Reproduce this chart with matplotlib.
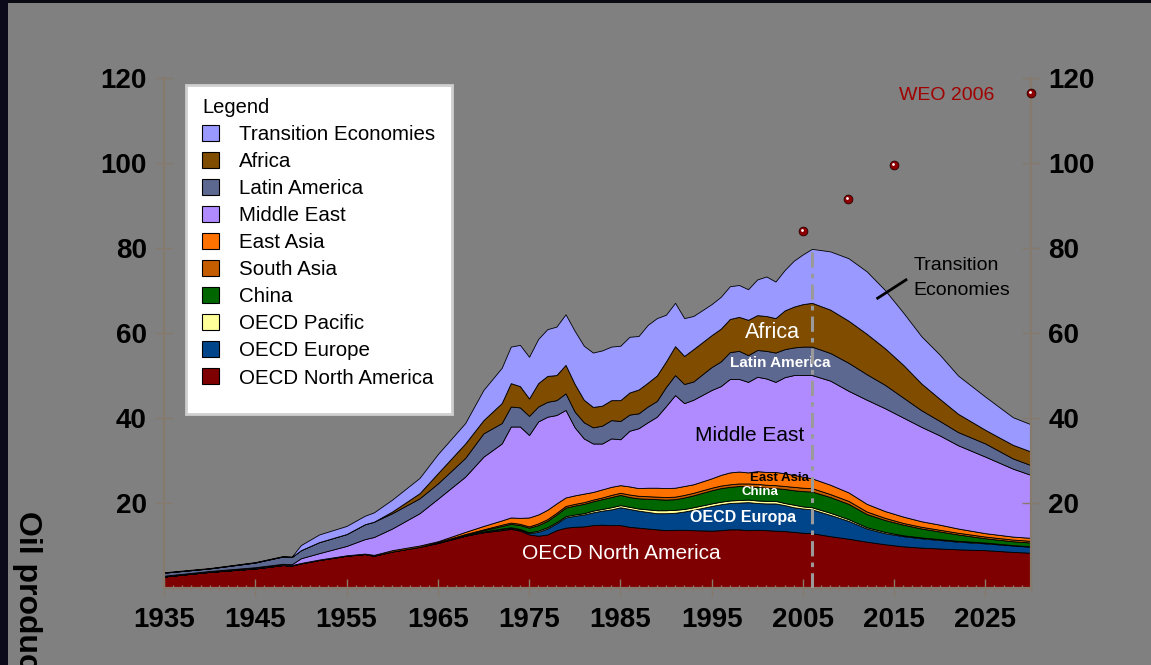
import matplotlib
matplotlib.use("Agg")
import matplotlib.pyplot as plt
from matplotlib.patches import Patch, Rectangle
from matplotlib.transforms import offset_copy

plt.rcParams['font.family'] = ['Liberation Sans', 'DejaVu Sans']

# years (annual wiggles kept where visible)
years = [1935, 1940, 1945, 1948, 1949, 1950, 1952, 1955, 1957, 1958,
         1960, 1963, 1965, 1968, 1970, 1972, 1973, 1974, 1975, 1976,
         1977, 1978, 1979, 1980, 1981, 1982, 1983, 1984, 1985, 1986,
         1987, 1988, 1989, 1990, 1991, 1992, 1993, 1995, 1996, 1997,
         1998, 1999, 2000, 2001, 2002, 2003, 2004, 2005, 2006, 2008,
         2010, 2012, 2014, 2016, 2018, 2020, 2022, 2025, 2028, 2030]

# oil production by region, mb/d (stacked from the bottom)
oecd_north_america = [2.7, 3.8, 4.6, 5.4, 5.3, 5.8, 6.6, 7.6, 8.0, 7.6,
                      8.6, 9.7, 10.6, 12.3, 13.1, 13.6, 13.9, 13.5, 12.6, 12.3,
                      12.6, 13.6, 14.2, 14.4, 14.5, 14.8, 14.9, 14.8, 14.8, 14.4,
                      14.2, 14.0, 13.8, 13.6, 13.7, 13.7, 13.6, 13.5, 13.6, 13.8,
                      13.8, 13.6, 13.7, 13.6, 13.5, 13.4, 13.2, 13.0, 12.9, 12.2,
                      11.6, 10.9, 10.3, 9.8, 9.5, 9.3, 9.1, 8.9, 8.5, 8.3]
oecd_europe = [0, 0, 0, 0, 0, 0, 0, 0, 0, 0,
               0, 0, 0, 0, 0.1, 0.2, 0.2, 0.2, 0.3, 0.9,
               1.4, 1.6, 2.4, 2.6, 2.8, 3.0, 3.3, 3.7, 4.2, 4.2,
               4.0, 3.9, 3.8, 4.0, 4.0, 4.3, 4.8, 5.8, 6.1, 6.2,
               6.3, 6.6, 6.3, 6.3, 6.4, 6.1, 5.8, 5.7, 5.6, 5.0,
               4.2, 3.1, 2.6, 2.4, 2.2, 2.0, 1.8, 1.6, 1.5, 1.4]
oecd_pacific = [0, 0, 0, 0, 0, 0, 0, 0, 0, 0,
                0, 0, 0, 0, 0.1, 0.2, 0.2, 0.2, 0.2, 0.3,
                0.3, 0.3, 0.3, 0.3, 0.3, 0.4, 0.4, 0.5, 0.5, 0.5,
                0.5, 0.6, 0.7, 0.7, 0.7, 0.6, 0.6, 0.6, 0.6, 0.6,
                0.6, 0.6, 0.6, 0.6, 0.6, 0.5, 0.6, 0.5, 0.5, 0.5,
                0.4, 0.3, 0.3, 0.2, 0.2, 0.2, 0.2, 0.2, 0.1, 0.1]
china = [0, 0, 0, 0, 0, 0, 0, 0, 0, 0,
         0, 0, 0.1, 0.2, 0.3, 0.6, 0.8, 0.9, 1.1, 1.3,
         1.5, 1.8, 2.0, 2.1, 2.2, 2.2, 2.3, 2.4, 2.4, 2.3,
         2.4, 2.5, 2.6, 2.5, 2.5, 2.7, 2.8, 3.1, 3.2, 3.2,
         3.3, 3.1, 3.2, 3.1, 3.0, 3.3, 3.4, 3.6, 3.7, 3.7,
         3.6, 3.1, 2.8, 2.5, 2.1, 1.8, 1.5, 1.0, 0.9, 0.9]
south_asia = [0, 0, 0, 0, 0, 0, 0, 0, 0, 0,
              0, 0, 0.1, 0.2, 0.2, 0.3, 0.3, 0.3, 0.3, 0.4,
              0.4, 0.4, 0.4, 0.4, 0.4, 0.4, 0.4, 0.5, 0.5, 0.6,
              0.6, 0.6, 0.6, 0.6, 0.6, 0.6, 0.6, 0.6, 0.6, 0.6,
              0.6, 0.7, 0.7, 0.7, 0.7, 0.7, 0.8, 0.8, 0.8, 0.7,
              0.7, 0.6, 0.5, 0.4, 0.4, 0.4, 0.4, 0.4, 0.4, 0.4]
east_asia = [0.1, 0.1, 0.1, 0.1, 0.1, 0.1, 0.1, 0.1, 0.1, 0.2,
             0.3, 0.3, 0.2, 0.5, 0.8, 1.0, 1.2, 1.4, 2.1, 2.1,
             2.2, 2.2, 2.0, 2.0, 2.0, 1.8, 1.9, 1.9, 1.8, 1.9,
             1.8, 2.0, 2.1, 2.1, 2.1, 2.1, 2.0, 2.2, 2.5, 2.8,
             2.8, 2.6, 3.0, 3.0, 3.1, 3.0, 2.8, 2.6, 2.3, 2.2,
             2.0, 1.8, 1.6, 1.5, 1.3, 1.2, 1.0, 0.8, 0.7, 0.7]
middle_east = [0.1, 0.1, 0.2, 0.2, 0.2, 1.1, 1.5, 2.2, 3.4, 4.2,
               5.1, 7.6, 10.0, 13.0, 16.3, 18.1, 21.4, 21.5, 19.4, 21.9,
               21.9, 20.8, 20.6, 16.0, 13.0, 11.4, 10.8, 11.4, 10.8, 13.1,
               14.1, 15.4, 16.7, 19.3, 21.8, 19.5, 19.9, 20.8, 20.9, 22.0,
               21.8, 21.3, 22.2, 22.0, 21.2, 22.6, 23.5, 23.9, 24.3, 24.5,
               23.9, 24.5, 24.2, 23.3, 22.2, 21.0, 19.6, 18.0, 16.0, 14.8]
latin_america = [0.7, 0.6, 1.1, 1.7, 1.7, 1.9, 2.6, 2.8, 3.5, 3.6,
                 3.6, 3.5, 3.6, 4.4, 5.5, 4.8, 4.7, 4.5, 4.5, 3.5,
                 3.5, 3.5, 3.9, 3.7, 3.8, 3.8, 4.2, 4.3, 4.3, 3.8,
                 3.5, 3.7, 3.7, 4.5, 4.7, 4.5, 4.3, 5.4, 5.8, 6.3,
                 6.6, 6.3, 6.3, 6.5, 6.9, 6.6, 6.5, 6.7, 6.7, 6.5,
                 6.6, 6.0, 5.5, 4.7, 3.9, 3.4, 3.1, 3.1, 2.4, 2.3]
africa = [0, 0, 0, 0, 0, 0, 0, 0, 0, 0,
          0.4, 1.2, 2.4, 3.4, 3.1, 4.7, 5.5, 5.0, 4.1, 5.5,
          6.1, 5.9, 6.7, 6.5, 5.3, 4.8, 4.7, 4.7, 4.9, 5.2,
          5.6, 5.6, 6.0, 6.0, 6.8, 6.6, 7.6, 7.5, 7.7, 7.8,
          8.0, 8.3, 8.2, 8.2, 8.1, 9.1, 9.6, 10.0, 10.3, 10.2,
          9.9, 9.5, 8.6, 7.7, 6.3, 5.2, 4.3, 3.2, 3.2, 3.2]
transition = [0.1, 0.1, 0.1, 0.1, 0.1, 1.2, 1.8, 1.9, 2.0, 2.2,
              2.8, 3.6, 4.5, 4.8, 7.1, 8.3, 8.6, 9.7, 9.8, 10.4,
              11.0, 11.4, 11.9, 12.5, 12.7, 12.8, 13.0, 12.6, 12.8, 13.1,
              12.6, 13.6, 13.5, 11.0, 10.2, 8.9, 7.8, 7.3, 7.5, 7.7,
              7.5, 7.2, 8.4, 9.3, 8.6, 9.5, 10.8, 11.7, 12.7, 13.7,
              14.7, 14.7, 13.7, 12.3, 11.1, 10.4, 9.0, 7.8, 6.5, 6.4]

regions = ['OECD North America', 'OECD Europe', 'OECD Pacific', 'China',
           'South Asia', 'East Asia', 'Middle East', 'Latin America',
           'Africa', 'Transition Economies']
colors = ['#7f0000', '#00458a', '#ffff99', '#006600', '#c45c00',
          '#ff7200', '#b08bff', '#5d6890', '#7f4c00', '#9999ff']

# WEO 2006 demand projection points
weo_years = [2005, 2010, 2015, 2030]
weo_values = [84.0, 91.5, 99.5, 116.5]

peak_year = 2006
peak_value = 79.8

bg = '#808080'
axis_col = '#857a6c'

fig = plt.figure(figsize=(11.51, 6.65), dpi=100, facecolor=bg)
W, H = 1151, 665
ax = fig.add_axes([164 / W, 1 - 588 / H, (1031 - 164) / W, (588 - 78) / H])
ax.set_facecolor(bg)

series = [oecd_north_america, oecd_europe, oecd_pacific, china, south_asia,
          east_asia, middle_east, latin_america, africa, transition]
ax.stackplot(years, *series, colors=colors, edgecolor='black', linewidth=0.6)

ax.plot([peak_year, peak_year], [0, peak_value], color='#9a9a9a', lw=2.2,
        linestyle=(0, (5, 2, 1.5, 2)), zorder=4)

# WEO dots with a small highlight
ax.scatter(weo_years, weo_values, s=40, color='#8e0000', edgecolor='#2a0000',
           linewidth=0.6, zorder=7, clip_on=False)
hl = offset_copy(ax.transData, fig=fig, x=-1.2, y=1.2, units='dots')
ax.scatter(weo_years, weo_values, s=4, color='white', linewidth=0,
           transform=hl, zorder=8, clip_on=False)

ax.set_xlim(1935, 2030)
ax.set_ylim(0, 120)
ax.set_xticks(range(1935, 2030, 10))
ax.set_xticks(range(1935, 2031), minor=True)
ax.set_yticks(range(20, 121, 20))

for s in ['left', 'right', 'bottom']:
    ax.spines[s].set_color(axis_col)
    ax.spines[s].set_linewidth(1.6)
ax.spines['top'].set_visible(False)

ax.tick_params(axis='y', direction='inout', length=13, width=1, color=axis_col,
               labelsize=20, pad=6, right=True, labelright=True)
ax.tick_params(axis='x', which='major', direction='inout', length=13, width=1,
               color=axis_col, labelsize=20, pad=7)
ax.tick_params(axis='x', which='minor', direction='inout', length=5, width=1,
               color=axis_col)
for lab in ax.get_xticklabels() + ax.get_yticklabels():
    lab.set_fontweight('bold')
for t in ax.yaxis.get_major_ticks():
    t.label2.set_fontweight('bold')

# region labels
ax.text(1985.1, 8.2, 'OECD North America', color='white', fontsize=15,
        ha='center', va='center')
ax.text(1998.4, 16.7, 'OECD Europa', color='white', fontsize=11.5,
        fontweight='bold', ha='center', va='center')
ax.text(2000.3, 22.6, 'China', color='white', fontsize=9.5,
        fontweight='bold', ha='center', va='center')
ax.text(2002.4, 25.9, 'East Asia', color='black', fontsize=9.5,
        fontweight='bold', ha='center', va='center')
ax.text(1999.2, 35.8, 'Middle East', color='black', fontsize=15,
        ha='center', va='center')
ax.text(2002.5, 52.9, 'Latin America', color='white', fontsize=11,
        fontweight='bold', ha='center', va='center')
ax.text(2001.7, 60.0, 'Africa', color='white', fontsize=15.5,
        ha='center', va='center')
ax.text(2017.1, 72.9, 'Transition\nEconomies', color='black', fontsize=14,
        ha='left', va='center', linespacing=1.6)
ax.plot([2013.2, 2016.3], [68.2, 72.5], color='black', lw=2)
ax.text(2020.8, 115.8, 'WEO 2006', color='#a00000', fontsize=14,
        ha='center', va='center')

# legend box
ax.add_patch(Rectangle((186 / W, 1 - 414 / H), (452 - 186) / W, (414 - 85) / H,
                       transform=fig.transFigure, facecolor='white',
                       edgecolor='#cfcfcf', linewidth=2, clip_on=False, zorder=5))
handles = [Patch(facecolor=c, edgecolor='black', linewidth=0.8, label=r)
           for c, r in zip(colors, regions)][::-1]
leg = ax.legend(handles=handles, loc='upper left', frameon=False,
                bbox_to_anchor=(192 / W, 1 - 88 / H), bbox_transform=fig.transFigure,
                borderpad=0, title='Legend', alignment='left', title_fontsize=14.5,
                fontsize=14.8, handlelength=0.8, handleheight=0.8,
                handletextpad=1.0, labelspacing=0.39)
leg.set_zorder(6)

# y-axis title (cut off at the bottom, as in the original)
fig.text(27 / W, 1 - 511 / H, 'Oil production (mb/d)', rotation=-90,
         ha='center', va='top', fontsize=23, fontweight='bold')

# dark frame strips
fig.add_artist(Rectangle((0, 1 - 3 / H), 1, 3 / H, transform=fig.transFigure,
                         facecolor='#0a0a12', edgecolor='none'))
fig.add_artist(Rectangle((0, 0), 8 / W, 1, transform=fig.transFigure,
                         facecolor='#0a0a1a', edgecolor='none'))

fig.savefig('out.png', dpi=100, facecolor=bg)
